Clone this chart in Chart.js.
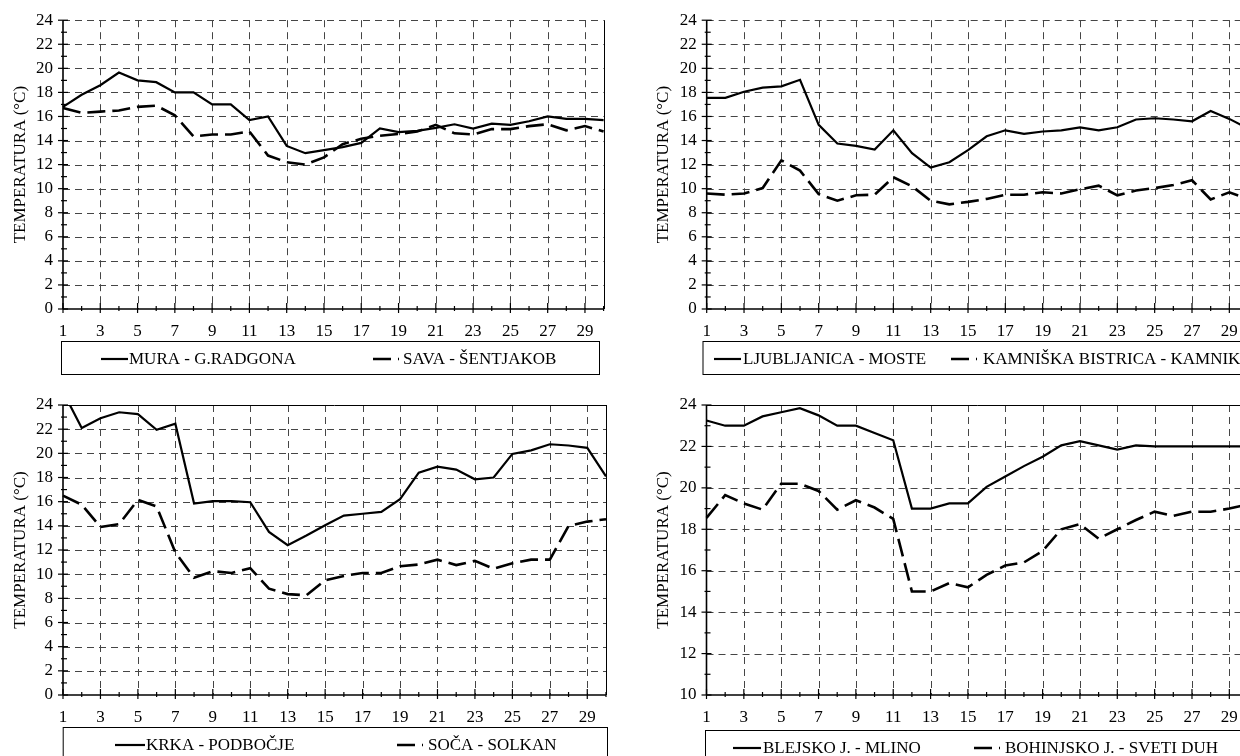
<!DOCTYPE html>
<html>
<head>
<meta charset="utf-8">
<script src="https://cdn.jsdelivr.net/npm/chart.js@4/dist/chart.umd.min.js"></script>
<style>
html,body{margin:0;padding:0;background:#fff;overflow:hidden;width:1240px;height:756px;position:relative}
canvas{position:absolute}
</style>
</head>
<body>
<canvas id="c1" width="620" height="378" style="left:0;top:0"></canvas>
<canvas id="c2" width="660" height="378" style="left:620px;top:0"></canvas>
<canvas id="c3" width="620" height="378" style="left:0;top:378px"></canvas>
<canvas id="c4" width="660" height="378" style="left:620px;top:378px"></canvas>
<script>
// ---- data ----
const days = [1,2,3,4,5,6,7,8,9,10,11,12,13,14,15,16,17,18,19,20,21,22,23,24,25,26,27,28,29,30];

const muraGRadgona = [16.8,17.8,18.6,19.65,19.0,18.85,18.0,18.0,17.0,17.0,15.7,16.0,13.55,12.95,13.2,13.45,13.8,15.0,14.7,14.8,15.05,15.35,15.0,15.4,15.3,15.6,16.0,15.8,15.8,15.7];
const savaSentjakob = [16.7,16.3,16.4,16.5,16.8,16.9,16.1,14.35,14.5,14.5,14.75,12.75,12.2,12.0,12.6,13.7,14.15,14.4,14.55,14.75,15.3,14.6,14.5,14.95,14.95,15.2,15.35,14.85,15.2,14.75];

const ljubljanicaMoste = [17.55,17.55,18.05,18.4,18.5,19.05,15.3,13.75,13.55,13.25,14.85,12.95,11.75,12.2,13.2,14.35,14.85,14.55,14.75,14.85,15.1,14.85,15.1,15.75,15.85,15.75,15.6,16.45,15.8,15.0];
const kamniskaBistrica = [9.6,9.5,9.6,10.05,12.35,11.5,9.55,9.0,9.45,9.5,10.95,10.2,9.0,8.7,8.9,9.15,9.5,9.5,9.7,9.6,9.95,10.25,9.45,9.85,10.05,10.3,10.7,9.1,9.7,9.15];

const krkaPodbocje = [25.1,22.1,22.9,23.4,23.25,21.95,22.45,15.85,16.05,16.05,15.95,13.5,12.4,13.2,14.05,14.85,15.0,15.15,16.2,18.4,18.9,18.65,17.85,18.0,19.95,20.25,20.75,20.65,20.45,18.1];
const socaSolkan = [16.5,15.75,13.9,14.15,16.15,15.6,11.8,9.7,10.25,10.1,10.5,8.8,8.35,8.25,9.5,9.85,10.1,10.1,10.65,10.8,11.2,10.75,11.1,10.45,10.9,11.2,11.2,14.0,14.35,14.55];

const blejskoMlino = [23.25,23.0,23.0,23.45,23.65,23.85,23.5,23.0,23.0,22.65,22.3,19.0,19.0,19.25,19.25,20.05,20.55,21.05,21.5,22.05,22.25,22.05,21.85,22.05,22.0,22.0,22.0,22.0,22.0,22.0];
const bohinjskoSvetiDuh = [18.55,19.65,19.25,18.95,20.2,20.2,19.85,18.95,19.4,19.05,18.5,15.0,15.0,15.4,15.2,15.8,16.25,16.4,16.95,18.0,18.25,17.55,18.0,18.45,18.85,18.65,18.85,18.85,19.0,19.2];

const names1 = ['MURA - G.RADGONA', 'SAVA - ŠENTJAKOB'];
const names2 = ['LJUBLJANICA - MOSTE', 'KAMNIŠKA BISTRICA - KAMNIK'];
const names3 = ['KRKA - PODBOČJE', 'SOČA - SOLKAN'];
const names4 = ['BLEJSKO J. - MLINO', 'BOHINJSKO J. - SVETI DUH'];
const yTitle = 'TEMPERATURA (°C)';

// ---- drawing ----
const FONT = "'Liberation Serif','Times New Roman',serif";
const FS = 17;

function seg(ctx, x0, y0, x1, y1) { ctx.beginPath(); ctx.moveTo(x0, y0); ctx.lineTo(x1, y1); ctx.stroke(); }

const framePlugin = {
  id: 'frame',
  beforeDatasetsDraw(chart, args, o) {
    const {ctx, chartArea: a} = chart;
    const xs = chart.scales.x, ys = chart.scales.y;
    ctx.save();
    // dashed grid
    ctx.strokeStyle = '#454545';
    ctx.lineWidth = 1;
    ctx.setLineDash([7, 5]);
    for (let v = ys.min + 2; v <= ys.max; v += 2) {
      if (v === ys.max && o.solidTop) continue;
      const py = Math.round(ys.getPixelForValue(v)) + 0.5;
      seg(ctx, a.left, py, a.right, py);
    }
    for (let i = 2; i < days.length - 1; i += 2) {
      const px = Math.round(xs.getPixelForValue(i)) + 0.5;
      seg(ctx, px, a.top, px, a.bottom);
    }
    ctx.setLineDash([]);
    // frame
    ctx.strokeStyle = '#000';
    ctx.lineWidth = 1;
    seg(ctx, Math.round(a.right) + 0.5, a.top, Math.round(a.right) + 0.5, a.bottom);
    if (o.solidTop) seg(ctx, a.left, Math.round(a.top) + 0.5, a.right, Math.round(a.top) + 0.5);
    ctx.lineWidth = 1.6;
    seg(ctx, a.left, a.top, a.left, a.bottom);
    seg(ctx, a.left, a.bottom, a.right, a.bottom);
    // tick marks
    ctx.lineWidth = 1.2;
    for (let v = ys.min; v <= ys.max; v++) {
      const py = ys.getPixelForValue(v);
      if (v % 2 === 0) seg(ctx, a.left - 5, py, a.left + 5, py);
      else seg(ctx, a.left - 2, py, a.left + 4, py);
    }
    for (let i = 0; i < days.length; i++) {
      const px = xs.getPixelForValue(i);
      if (i % 2 === 0) seg(ctx, px, a.bottom - 6, px, a.bottom + 4);
      else seg(ctx, px, a.bottom - 3, px, a.bottom + 2);
    }
    ctx.restore();
  },
  afterDraw(chart, args, o) {
    const {ctx} = chart;
    const L = o.legend;
    ctx.save();
    ctx.strokeStyle = '#000';
    ctx.lineWidth = 1;
    ctx.strokeRect(L.l + 0.5, L.t + 0.5, L.r - L.l, L.b - L.t);
    const cy = L.t + 18;
    chart.data.datasets.forEach((ds, k) => {
      const it = L.items[k];
      ctx.setLineDash(ds.borderDash || []);
      ctx.lineWidth = ds.borderWidth;
      seg(ctx, it.x0, cy, it.x1, cy);
      ctx.setLineDash([]);
      ctx.fillStyle = '#000';
      ctx.font = FS + 'px ' + FONT;
      ctx.textBaseline = 'middle';
      ctx.textAlign = 'left';
      ctx.fillText(ds.label, it.tx, cy + 1);
    });
    ctx.restore();
  }
};

function makeChart(id, solid, dashed, names, yMin, lay) {
  return new Chart(document.getElementById(id), {
    type: 'line',
    data: {
      labels: days,
      datasets: [
        {label: names[0], data: solid, borderColor: '#000', borderWidth: 2.2, pointRadius: 0, tension: 0, fill: false},
        {label: names[1], data: dashed, borderColor: '#000', borderWidth: 2.6, borderDash: [18, 7], pointRadius: 0, tension: 0, fill: false}
      ]
    },
    options: {
      responsive: false,
      animation: false,
      devicePixelRatio: 1,
      layout: {padding: {left: 0, top: lay.top, right: lay.right, bottom: 0}},
      plugins: {
        legend: {display: false},
        tooltip: {enabled: false},
        frame: {solidTop: lay.solidTop, legend: lay.legend}
      },
      scales: {
        x: {
          type: 'category', offset: false,
          grid: {display: false, drawTicks: false},
          border: {display: false},
          ticks: {
            autoSkip: false, maxRotation: 0, minRotation: 0, padding: 12, color: '#000',
            font: {family: FONT, size: FS},
            callback(v, i) { return i % 2 === 0 ? String(this.getLabelForValue(v)) : ''; }
          },
          afterFit(s) { s.height = lay.xH; }
        },
        y: {
          min: yMin, max: 24,
          grid: {display: false, drawTicks: false},
          border: {display: false},
          ticks: {stepSize: 2, padding: 10, color: '#000', font: {family: FONT, size: FS}},
          title: {display: true, text: yTitle, color: '#000', font: {family: FONT, size: FS}, padding: {top: lay.tPad, bottom: 0}},
          afterFit(s) { s.width = lay.yW; }
        }
      }
    },
    plugins: [framePlugin]
  });
}

makeChart('c1', muraGRadgona, savaSentjakob, names1, 0, {
  top: 20, right: 16.4, yW: 63, xH: 69, tPad: 10.8, solidTop: false,
  legend: {l: 61, r: 599, t: 341, b: 374, items: [{x0: 101, x1: 128, tx: 129}, {x0: 373, x1: 399, tx: 403}]}
});
makeChart('c2', ljubljanicaMoste, kamniskaBistrica, names2, 0, {
  top: 20, right: 32, yW: 86.7, xH: 69, tPad: 33.8, solidTop: false,
  legend: {l: 82.5, r: 700, t: 341, b: 374, items: [{x0: 94, x1: 121, tx: 123}, {x0: 331, x1: 357, tx: 363}]}
});
makeChart('c3', krkaPodbocje, socaSolkan, names3, 0, {
  top: 27, right: 14, yW: 63, xH: 61, tPad: 10.8, solidTop: true,
  legend: {l: 62.7, r: 607, t: 349, b: 382, items: [{x0: 115, x1: 145, tx: 146}, {x0: 397, x1: 423, tx: 428}]}
});
makeChart('c4', blejskoMlino, bohinjskoSvetiDuh, names4, 10, {
  top: 27, right: 32, yW: 86.5, xH: 61, tPad: 33.5, solidTop: true,
  legend: {l: 85, r: 700, t: 352, b: 385, items: [{x0: 113, x1: 141, tx: 143}, {x0: 354, x1: 380, tx: 385}]}
});
</script>
</body>
</html>
